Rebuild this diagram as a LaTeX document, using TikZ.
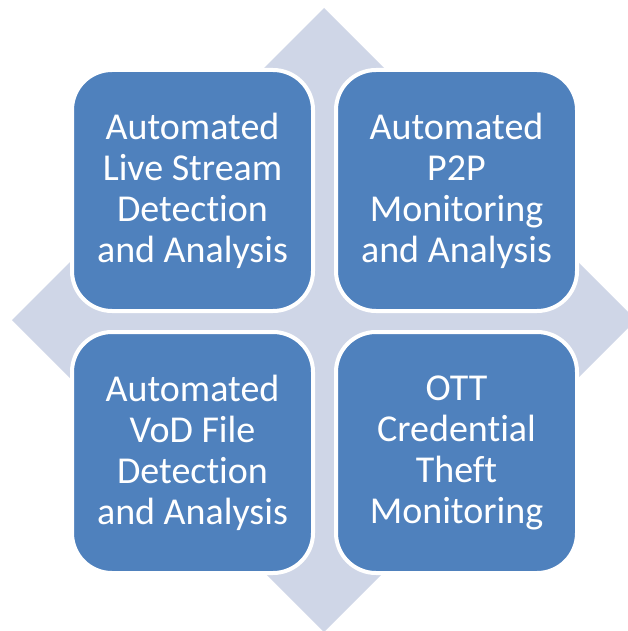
\documentclass[tikz,border=0pt]{standalone}
\usepackage{fontspec}
\setmainfont[Ligatures=NoCommon]{Carlito}
\definecolor{tileblue}{HTML}{4F81BD}
\definecolor{diamondgray}{HTML}{CFD6E7}
\tikzset{
    tile/.style={rectangle, rounded corners=40pt, minimum width=241pt, minimum height=241pt,
        fill=tileblue, draw=white, line width=4pt, text=white, align=center,
        font=\fontsize{38}{41}\selectfont}
}
\begin{document}
\begin{tikzpicture}[x=1pt,y=-1pt]
    \useasboundingbox (0,0) rectangle (627,631);
    \coordinate (C) at (324,320);
    % background diamond
    \fill[diamondgray] (C) ++(0,-312) -- ++(312,312) -- ++(-312,312) -- ++(-312,-312) -- cycle;
    % four tiles
    \node[tile] (live) at (192.5,190.5) {Automated\\Live Stream\\Detection\\and Analysis};
    \node[tile] (ptwop) at (456.5,190.5) {Automated\\P2P\\Monitoring\\and Analysis};
    \node[tile] (vod) at (192.5,452.5) {Automated\\VoD File\\Detection\\and Analysis};
    \node[tile] (ott) at (456.5,452.5) {OTT\\Credential\\Theft\\Monitoring};
\end{tikzpicture}
\end{document}
